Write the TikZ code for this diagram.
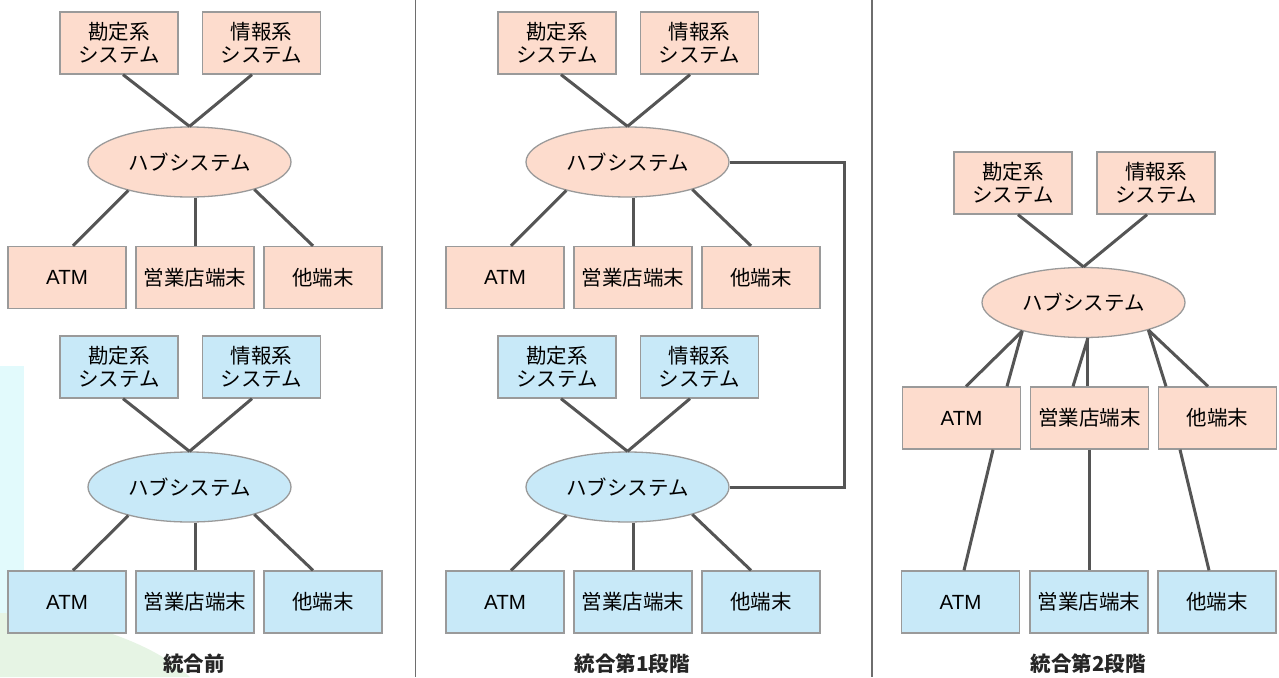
\documentclass[tikz,border=0pt]{standalone}
\usepackage{fontspec}
\setmainfont{Noto Sans CJK JP}
\newfontfamily\latinfont{Liberation Sans}
\usetikzlibrary{shapes.geometric,calc}
\definecolor{pinkfill}{HTML}{FDDCCD}
\definecolor{bluefill}{HTML}{C8E9F8}
\definecolor{bordergray}{HTML}{9A9A9A}
\definecolor{linegray}{HTML}{555555}
\definecolor{divgray}{HTML}{6E6E6E}
\definecolor{wmcyan}{HTML}{E2FAFC}
\definecolor{wmgreen}{HTML}{E6F4E4}
\begin{document}
\begin{tikzpicture}[x=1pt,y=-1pt,
  sysbox/.style={draw=bordergray, line width=1.3pt, minimum width=118pt, minimum height=62pt,
    inner sep=0pt, align=center, font=\fontsize{20.5}{23}\selectfont},
  pinkbox/.style={sysbox, fill=pinkfill},
  bluebox/.style={sysbox, fill=bluefill},
  hubshape/.style={ellipse, draw=bordergray, line width=1.3pt, minimum width=203pt,
    minimum height=70pt, inner sep=0pt, font=\fontsize{20.5}{23}\selectfont},
  pinkhub/.style={hubshape, fill=pinkfill},
  bluehub/.style={hubshape, fill=bluefill},
  link/.style={draw=linegray, line width=3pt},
  divider/.style={draw=divgray, line width=1.6pt},
  caption/.style={font=\fontsize{20.5}{23}\selectfont\bfseries, text=black!85}]
\useasboundingbox (0,0) rectangle (1279,677);
% faint background marks
\fill[wmcyan] (0,366) rectangle (24,614);
\fill[wmgreen] (0,613) .. controls (70,615) and (150,640) .. (190,677) -- (0,677) -- cycle;
% dividers
\draw[divider] (415.5,0) -- (415.5,677);
\draw[divider] (872,0) -- (872,677);

% ===== Panel 1: before integration =====
\node[pinkbox] (k1) at (119,43) {勘定系\\システム};
\node[pinkbox] (j1) at (261.5,43) {情報系\\システム};
\node[pinkhub] (h1) at (189.5,162) {ハブシステム};
\node[pinkbox] (a1) at (67,277.5) {\latinfont ATM};
\node[pinkbox] (e1) at (195,277.5) {営業店端末};
\node[pinkbox] (o1) at (323,277.5) {他端末};
\draw[link] ($(k1.south)+(4,0)$) -- (h1.north);
\draw[link] ($(j1.south)+(-9.5,0)$) -- (h1.north);
\draw[link] ($(a1.north)+(6,0)$) -- (h1.205);
\draw[link] (e1.north) -- (e1.north |- h1.south);
\draw[link] ($(o1.north)+(-10,0)$) -- (h1.337.5);

\node[bluebox] (k1b) at (119,367) {勘定系\\システム};
\node[bluebox] (j1b) at (261.5,367) {情報系\\システム};
\node[bluehub] (h1b) at (189.5,487) {ハブシステム};
\node[bluebox] (a1b) at (67,602) {\latinfont ATM};
\node[bluebox] (e1b) at (195,602) {営業店端末};
\node[bluebox] (o1b) at (323,602) {他端末};
\draw[link] ($(k1b.south)+(4,0)$) -- (h1b.north);
\draw[link] ($(j1b.south)+(-9.5,0)$) -- (h1b.north);
\draw[link] ($(a1b.north)+(6,0)$) -- (h1b.205);
\draw[link] (e1b.north) -- (e1b.north |- h1b.south);
\draw[link] ($(o1b.north)+(-10,0)$) -- (h1b.337.5);
\node[caption] (l1) at (194,664) {統合前};

% ===== Panel 2: stage 1 =====
\node[pinkbox] (k2) at (557,43) {勘定系\\システム};
\node[pinkbox] (j2) at (699.5,43) {情報系\\システム};
\node[pinkhub] (h2) at (627.5,162) {ハブシステム};
\node[pinkbox] (a2) at (505,277.5) {\latinfont ATM};
\node[pinkbox] (e2) at (633,277.5) {営業店端末};
\node[pinkbox] (o2) at (761,277.5) {他端末};
\draw[link] ($(k2.south)+(4,0)$) -- (h2.north);
\draw[link] ($(j2.south)+(-9.5,0)$) -- (h2.north);
\draw[link] ($(a2.north)+(6,0)$) -- (h2.205);
\draw[link] (e2.north) -- (e2.north |- h2.south);
\draw[link] ($(o2.north)+(-10,0)$) -- (h2.337.5);

\node[bluebox] (k2b) at (557,367) {勘定系\\システム};
\node[bluebox] (j2b) at (699.5,367) {情報系\\システム};
\node[bluehub] (h2b) at (627.5,487) {ハブシステム};
\node[bluebox] (a2b) at (505,602) {\latinfont ATM};
\node[bluebox] (e2b) at (633,602) {営業店端末};
\node[bluebox] (o2b) at (761,602) {他端末};
\draw[link] ($(k2b.south)+(4,0)$) -- (h2b.north);
\draw[link] ($(j2b.south)+(-9.5,0)$) -- (h2b.north);
\draw[link] ($(a2b.north)+(6,0)$) -- (h2b.205);
\draw[link] (e2b.north) -- (e2b.north |- h2b.south);
\draw[link] ($(o2b.north)+(-10,0)$) -- (h2b.337.5);
\draw[link] (h2.east) -- ++(115,0) |- (h2b.east);
\node[caption] (l2) at (632,664) {統合第1段階};

% ===== Panel 3: stage 2 =====
\node[pinkbox] (k3) at (1013,183) {勘定系\\システム};
\node[pinkbox] (j3) at (1156,183) {情報系\\システム};
\node[pinkhub] (h3) at (1083.5,302.5) {ハブシステム};
\node[pinkbox] (a3) at (961.5,418) {\latinfont ATM};
\node[pinkbox] (e3) at (1089.5,418) {営業店端末};
\node[pinkbox] (o3) at (1217.5,418) {他端末};
\node[bluebox] (a3b) at (960.5,602) {\latinfont ATM};
\node[bluebox] (e3b) at (1089,602) {営業店端末};
\node[bluebox] (o3b) at (1217,602) {他端末};
\draw[link] ($(k3.south)+(5,0)$) -- (h3.north);
\draw[link] ($(j3.south)+(-9,0)$) -- (h3.north);
\draw[link] ($(a3.north)+(4.5,0)$) -- (h3.205);
\draw[link] ($(a3.north)+(45.5,0)$) -- (h3.205);
\draw[link] ($(e3.north)+(-16.5,0)$) -- (h3.277);
\draw[link] (h3.277) -- (h3.277 |- e3.north);
\draw[link] ($(o3.north)+(-51.5,0)$) -- (h3.337.5);
\draw[link] ($(o3.north)+(-9.5,0)$) -- (h3.337.5);
\draw[link] ($(a3.south)+(31.5,0)$) -- ($(a3b.north)+(3.5,0)$);
\draw[link] (e3.south) -- (e3.south |- e3b.north);
\draw[link] ($(o3.south)+(-37.5,0)$) -- ($(o3b.north)+(-8,0)$);
\node[caption] (l3) at (1088,664) {統合第2段階};
\end{tikzpicture}
\end{document}
